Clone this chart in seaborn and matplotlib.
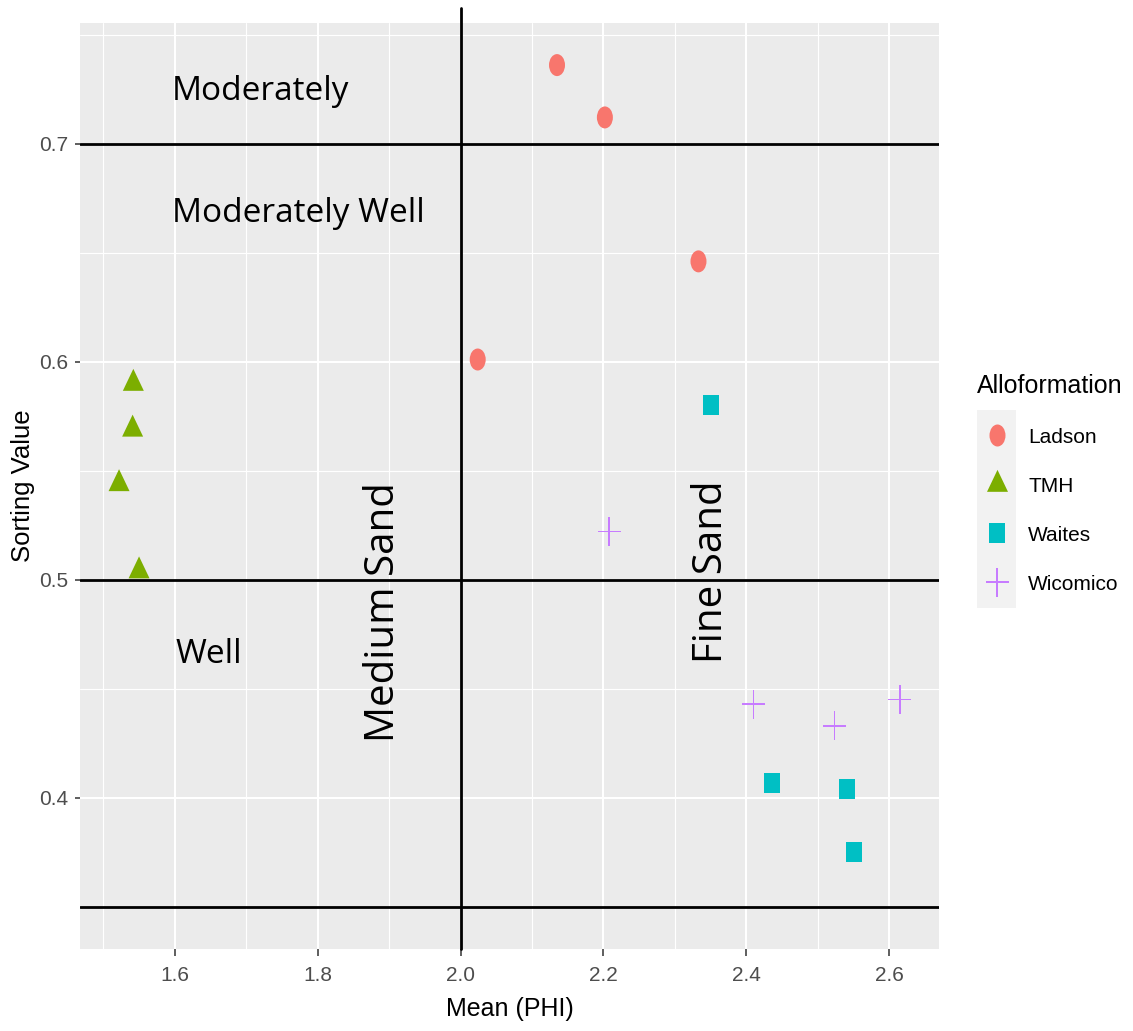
import numpy as np
import pandas as pd
import matplotlib
matplotlib.use("Agg")
import matplotlib.pyplot as plt
from matplotlib.path import Path
from matplotlib.patches import Rectangle
from matplotlib.ticker import MultipleLocator
import seaborn as sns

# --- sample measurements -------------------------------------------------
ladson_mean = [2.135, 2.202, 2.333, 2.024]
ladson_sort = [0.736, 0.712, 0.646, 0.601]

tmh_mean = [1.542, 1.541, 1.522, 1.550]
tmh_sort = [0.590, 0.569, 0.544, 0.504]

waites_mean = [2.351, 2.436, 2.541, 2.550]
waites_sort = [0.580, 0.407, 0.404, 0.375]

wicomico_mean = [2.208, 2.410, 2.523, 2.615]
wicomico_sort = [0.522, 0.443, 0.433, 0.445]

formations = ["Ladson", "TMH", "Waites", "Wicomico"]

# class boundaries
phi_breaks = [2.0]
sorting_breaks = [0.35, 0.5, 0.7]

x_ticks = [1.6, 1.8, 2.0, 2.2, 2.4, 2.6]
y_ticks = [0.4, 0.5, 0.6, 0.7]

df = pd.DataFrame({
    "Mean (PHI)": ladson_mean + tmh_mean + waites_mean + wicomico_mean,
    "Sorting Value": ladson_sort + tmh_sort + waites_sort + wicomico_sort,
    "Alloformation": (["Ladson"] * len(ladson_mean) + ["TMH"] * len(tmh_mean)
                      + ["Waites"] * len(waites_mean)
                      + ["Wicomico"] * len(wicomico_mean)),
})

# --- styling -------------------------------------------------------------
sns.set_theme(style="darkgrid")
plt.rcParams["font.family"] = ["Liberation Sans", "DejaVu Sans"]
plt.rcParams["text.color"] = "black"
label_font = ["Open Sans", "DejaVu Sans"]

palette = dict(zip(formations, ["#F8766D", "#7CAE00", "#00BFC4", "#C77CFF"]))


def ellipse_marker(w, h):
    c = Path.unit_circle()
    return Path(c.vertices * np.array([w / h, 1.0]), c.codes)


def triangle_marker(w, h):
    v = [(0, 2 * h / 3), (w / 2, -h / 3), (-w / 2, -h / 3), (0, 2 * h / 3)]
    return Path(v, [Path.MOVETO, Path.LINETO, Path.LINETO, Path.CLOSEPOLY])


def rect_marker(w, h):
    v = [(-w / 2, -h / 2), (w / 2, -h / 2), (w / 2, h / 2), (-w / 2, h / 2),
         (-w / 2, -h / 2)]
    return Path(v, [Path.MOVETO] + [Path.LINETO] * 3 + [Path.CLOSEPOLY])


def plus_marker(w, h, t):
    a, b, c = w / 2, h / 2, t / 2
    v = [(-c, b), (c, b), (c, c), (a, c), (a, -c), (c, -c), (c, -b),
         (-c, -b), (-c, -c), (-a, -c), (-a, c), (-c, c), (-c, b)]
    return Path(v, [Path.MOVETO] + [Path.LINETO] * 11 + [Path.CLOSEPOLY])


markers = {
    "Ladson": ellipse_marker(16, 22),
    "TMH": triangle_marker(21, 22),
    "Waites": rect_marker(16, 20),
    "Wicomico": plus_marker(23, 29, 1.4),
}
# marker extents in pixels -> area in points^2
px_extent = {"Ladson": 22, "TMH": 29.3, "Waites": 20, "Wicomico": 29}
sizes = {k: (v * 0.72) ** 2 for k, v in px_extent.items()}

fig = plt.figure(figsize=(11.33, 10.31), dpi=100)
ax = fig.add_axes([80 / 1133, 1 - 949 / 1031, 859 / 1133, 926 / 1031])
ax.set_facecolor("#EBEBEB")

sns.scatterplot(
    data=df, x="Mean (PHI)", y="Sorting Value",
    hue="Alloformation", style="Alloformation", size="Alloformation",
    hue_order=formations, style_order=formations, size_order=formations,
    palette=palette, markers=markers, sizes=sizes,
    linewidth=0, ax=ax, zorder=3,
)

# class boundary lines
for yb in sorting_breaks:
    ax.axhline(yb, color="black", lw=2.0, zorder=2)
for xb in phi_breaks:
    ax.axvline(xb, ymin=0, ymax=1 + 15 / 926, color="black", lw=2.0,
               zorder=2, clip_on=False)

# axis limits with 5% expansion, as in ggplot
xs = df["Mean (PHI)"]
ys = pd.concat([df["Sorting Value"], pd.Series(sorting_breaks)])
xpad = 0.05 * (xs.max() - xs.min())
ypad = 0.05 * (ys.max() - ys.min())
ax.set_xlim(xs.min() - xpad, xs.max() + xpad)
ax.set_ylim(ys.min() - ypad, ys.max() + ypad)

ax.set_xticks(x_ticks)
ax.set_xticklabels([f"{v:.1f}" for v in x_ticks])
ax.set_yticks(y_ticks)
ax.set_yticklabels([f"{v:.1f}" for v in y_ticks])
ax.xaxis.set_minor_locator(MultipleLocator(0.1))
ax.yaxis.set_minor_locator(MultipleLocator(0.05))
ax.grid(which="major", color="white", lw=1.5)
ax.grid(which="minor", color="white", lw=0.8)
ax.set_axisbelow(True)
for s in ax.spines.values():
    s.set_visible(False)

ax.tick_params(axis="x", which="major", length=5, width=1.1, color="#333333",
               labelcolor="#4D4D4D", labelsize=15, pad=7, bottom=True)
ax.tick_params(axis="y", which="major", length=3.6, width=1.1, color="#333333",
               labelcolor="#4D4D4D", labelsize=15, pad=5, left=True)
ax.tick_params(which="minor", length=0)

ax.set_xlabel("Mean (PHI)", fontsize=18, labelpad=9, color="black")
ax.set_ylabel("Sorting Value", fontsize=18.5, labelpad=3, color="black")

# sorting class and grain size annotations
ax.text(1.5956, 0.7198, "Moderately", fontsize=24, family=label_font,
        color="black", ha="left", va="baseline")
ax.text(1.5956, 0.6642, "Moderately Well", fontsize=24, family=label_font,
        color="black", ha="left", va="baseline")
ax.text(1.6014, 0.4619, "Well", fontsize=24, family=label_font,
        color="black", ha="left", va="baseline")
ax.text(1.9067, 0.4853, "Medium Sand", fontsize=29, family=label_font,
        color="black", rotation=90, rotation_mode="anchor",
        ha="center", va="baseline")
ax.text(2.366, 0.5037, "Fine Sand", fontsize=29, family=label_font,
        color="black", rotation=90, rotation_mode="anchor",
        ha="center", va="baseline")

# legend
sns.move_legend(
    ax, loc="upper left", bbox_to_anchor=(977 / 1133, 1 - 373.6 / 1031),
    bbox_transform=fig.transFigure, frameon=False, title="Alloformation",
    title_fontsize=18, fontsize=15, handlelength=1.9, handletextpad=0.55,
    labelspacing=1.44, borderpad=0, borderaxespad=0, alignment="left",
)
fig.add_artist(Rectangle((977 / 1133, 1 - 608 / 1031), 39 / 1133, 198 / 1031,
                         transform=fig.transFigure, facecolor="#F2F2F2",
                         edgecolor="none", zorder=-1))

fig.savefig("out.png", dpi=100)
